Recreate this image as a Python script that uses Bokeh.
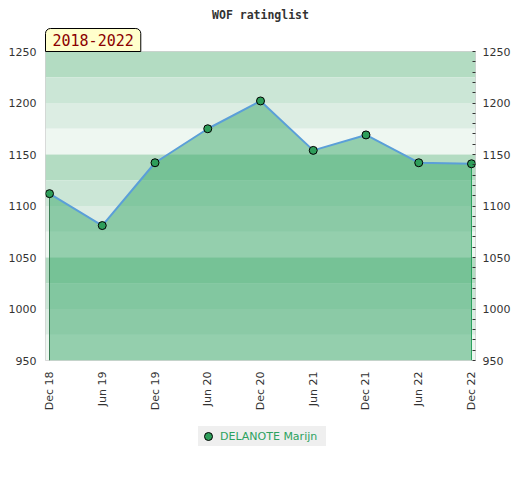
from bokeh.plotting import figure
from bokeh.models import (LinearAxis, Range1d, FixedTicker, Title, BoxAnnotation,
                          Legend, LegendItem, ColumnDataSource)
from bokeh.layouts import column
from bokeh.embed import file_html
from bokeh.resources import INLINE
import math

# ---- data ----
periods = ["Dec 18", "Jun 19", "Dec 19", "Jun 20", "Dec 20", "Jun 21", "Dec 21", "Jun 22", "Dec 22"]
ratings = [1112, 1081, 1142, 1175, 1202, 1154, 1169, 1142, 1141]
player = "DELANOTE Marijn"
title_text = "WOF ratinglist"
span_text = "2018-2022"
y_ticks = [950, 1000, 1050, 1100, 1150, 1200, 1250]
band_colors = ["#b3dcc2", "#cbe6d6", "#dcede3", "#eef7f1"]

idx = list(range(len(periods)))
pad = 0.076
y_min, y_max = 950, 1250

p = figure(width=520, height=415, output_backend="svg", toolbar_location=None,
           x_range=Range1d(idx[0] - pad, idx[-1] + pad), y_range=Range1d(y_min, y_max),
           min_border_left=45, min_border_right=45, min_border_top=50, min_border_bottom=55,
           background_fill_color="white", border_fill_color="white")
p.outline_line_color = "#d0d0d0"
p.outline_line_width = 1
p.xgrid.visible = False
p.ygrid.visible = False

# background bands (25-unit stripes, cycling from top)
n_bands = (y_max - y_min) // 25
for i in range(n_bands):
    top = y_max - 25 * i
    p.add_layout(BoxAnnotation(bottom=top - 25, top=top, fill_color=band_colors[i % 4],
                               fill_alpha=1.0, line_color=None, level="underlay"))

src = ColumnDataSource(dict(x=idx, y=ratings, base=[y_min] * len(idx)))
p.varea(x="x", y1="base", y2="y", source=src, fill_color="#3aa86a", fill_alpha=0.5)
p.segment(x0=[idx[0]], y0=[y_min], x1=[idx[0]], y1=[ratings[0]], line_color="#3b7d55", line_width=1)
p.segment(x0=[idx[-1]], y0=[y_min], x1=[idx[-1]], y1=[ratings[-1]], line_color="#2ca25f", line_width=1)
p.line(x="x", y="y", source=src, line_color="#5b9fd8", line_width=2)
p.scatter(x="x", y="y", source=src, size=8, fill_color="#2e9e5a",
          line_color="black", line_width=1)

# axes
ax = p.xaxis[0]
ax.ticker = FixedTicker(ticks=idx)
ax.major_label_overrides = {i: s for i, s in zip(idx, periods)}
ax.major_label_orientation = math.pi / 2
ax.axis_line_color = None
ax.major_tick_line_color = None
ax.minor_tick_line_color = None
ax.major_tick_in = 0
ax.major_tick_out = 0
ax.minor_tick_in = 0
ax.minor_tick_out = 0
ax.major_label_standoff = 11
ax.major_label_text_font = "DejaVu Sans"
ax.major_label_text_font_size = "11px"
ax.major_label_text_color = "#333333"

ly = p.yaxis[0]
ly.ticker = FixedTicker(ticks=y_ticks)
ly.axis_line_color = None
ly.major_tick_line_color = None
ly.minor_tick_line_color = None
ly.major_tick_out = 0
ly.major_label_standoff = 9
ly.major_label_text_font = "DejaVu Sans"
ly.major_label_text_font_size = "11px"
ly.major_label_text_color = "#333333"

minor = [v for v in range(y_min, y_max + 1, 10) if v not in y_ticks]
ry = LinearAxis(ticker=FixedTicker(ticks=y_ticks, minor_ticks=minor))
ry.axis_line_color = None
ry.major_tick_in = 3
ry.major_tick_out = 0
ry.minor_tick_in = 3
ry.minor_tick_out = 0
ry.major_tick_line_color = "#333333"
ry.minor_tick_line_color = "#333333"
ry.major_label_standoff = 7
ry.major_label_text_font = "DejaVu Sans"
ry.major_label_text_font_size = "11px"
ry.major_label_text_color = "#333333"
p.add_layout(ry, "right")

# title and period box
p.title.text = title_text
p.title.align = "center"
p.title.text_font = "DejaVu Sans Mono"
p.title.text_font_style = "bold"
p.title.text_font_size = "11.5px"
p.title.text_color = "#333333"
p.title.standoff = 10

p.add_layout(Title(text=span_text, align="left", offset=0, standoff=0,
                   text_font="DejaVu Sans Mono", text_font_size="15px",
                   text_font_style="normal", text_color="#8b0000",
                   background_fill_color="#ffffcc", background_fill_alpha=1.0,
                   border_line_color="black", border_line_width=1,
                   padding=dict(left=7, right=7, top=5, bottom=6),
                   border_radius=dict(top_left=5, top_right=5, bottom_right=0, bottom_left=0)),
             "above")

# legend strip below the chart (its key point lies outside this strip's ranges)
lg = figure(width=520, height=50, output_backend="svg", toolbar_location=None,
            x_axis_type=None, y_axis_type=None, title=None,
            min_border_left=0, min_border_right=0, min_border_top=0, min_border_bottom=0,
            x_range=Range1d(-20, -19), y_range=Range1d(0, 1),
            background_fill_color="white", border_fill_color="white")
lg.outline_line_color = None
lg.xgrid.visible = False
lg.ygrid.visible = False
key_src = ColumnDataSource(dict(x=[idx[0]], y=[ratings[0]]))
key = lg.scatter(x="x", y="y", source=key_src, size=8, fill_color="#2e9e5a",
                 line_color="black", line_width=1)
legend = Legend(items=[LegendItem(label=player, renderers=[key])],
                location=(153, 19), orientation="horizontal",
                background_fill_color="#efefef", background_fill_alpha=1.0,
                border_line_color=None, padding=0, margin=0, spacing=0,
                glyph_width=20, glyph_height=20, label_height=20, label_width=106,
                label_standoff=2, label_text_font="DejaVu Sans",
                label_text_font_size="11px", label_text_color="#2ca25f")
lg.add_layout(legend, "center")

open("out.html", "w").write(file_html(column(p, lg), INLINE))
